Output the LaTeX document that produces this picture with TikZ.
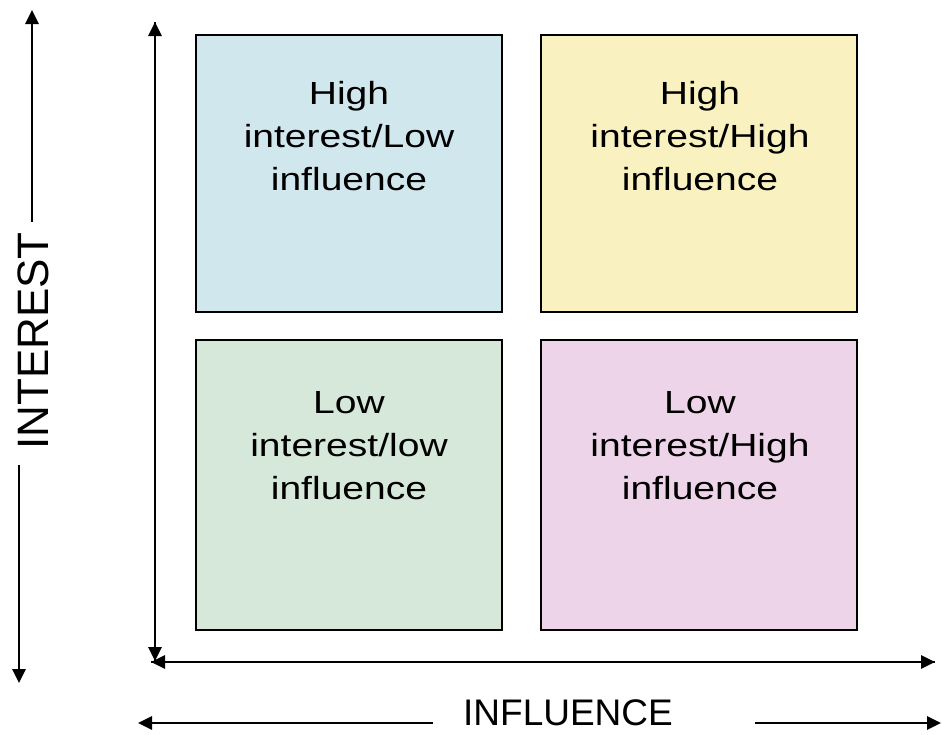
\documentclass[tikz,border=0pt]{standalone}
\usepackage{fontspec}
\setmainfont{Liberation Sans}
\newfontfamily\boxfont[FakeStretch=1.22]{Liberation Sans}
\usetikzlibrary{arrows.meta,calc}
\definecolor{qblue}{RGB}{208,231,237}
\definecolor{qyellow}{RGB}{249,242,192}
\definecolor{qgreen}{RGB}{213,232,218}
\definecolor{qpink}{RGB}{237,212,232}
\begin{document}
\begin{tikzpicture}[x=1pt,y=-1pt,
  quad/.style={draw=black,line width=2pt,minimum width=306pt,inner sep=0pt,outer sep=0pt},
  qtext/.style={align=center,anchor=base,inner sep=0pt,font=\boxfont\fontsize{32}{43}\selectfont},
  axis/.style={line width=2.8pt,-{Triangle[length=14pt,width=13pt]}},
  lbl/.style={inner sep=0pt}]
\useasboundingbox (0,0) rectangle (942,734);
% quadrants
\node[quad,fill=qblue,minimum height=277pt,minimum width=306pt] (tl) at (349,173.5) {};
\node[quad,fill=qyellow,minimum height=277pt,minimum width=316pt] (tr) at (699,173.5) {};
\node[quad,fill=qgreen,minimum height=290pt,minimum width=306pt] (bl) at (349,485) {};
\node[quad,fill=qpink,minimum height=290pt,minimum width=316pt] (br) at (699,485) {};
\node[qtext] (tlt) at (349,190) {High\\interest/Low\\influence};
\node[qtext] (trt) at (700,190) {High\\interest/High\\influence};
\node[qtext] (blt) at (349,499) {Low\\interest/low\\influence};
\node[qtext] (brt) at (700,499) {Low\\interest/High\\influence};
% main axes
\coordinate (vtop) at (155,22);
\coordinate (vbot) at (155,661);
\coordinate (hleft) at (151,662);
\coordinate (hright) at (935,662);
\draw[axis] (vbot) -- (vtop);
\draw[axis] (vtop) -- (vbot);
\draw[axis] (hright) -- (hleft);
\draw[axis] (hleft) -- (hright);
% INTEREST label and arrows
\node[lbl,rotate=90,font=\fontsize{44}{44}\selectfont] (interest) at (33,341) {INTEREST};
\coordinate (itop) at (32,10);
\coordinate (itopstart) at (32,222);
\coordinate (ibot) at (19,683);
\coordinate (ibotstart) at (19,465);
\draw[axis] (itopstart) -- (itop);
\draw[axis] (ibotstart) -- (ibot);
% INFLUENCE label and arrows
\node[lbl,anchor=base,font=\fontsize{37}{37}\selectfont] (influence) at (568,725) {INFLUENCE};
\coordinate (fleft) at (138,723);
\coordinate (fleftstart) at (433,723);
\coordinate (fright) at (941,723);
\coordinate (frightstart) at (755,723);
\draw[axis] (fleftstart) -- (fleft);
\draw[axis] (frightstart) -- (fright);
\end{tikzpicture}
\end{document}
